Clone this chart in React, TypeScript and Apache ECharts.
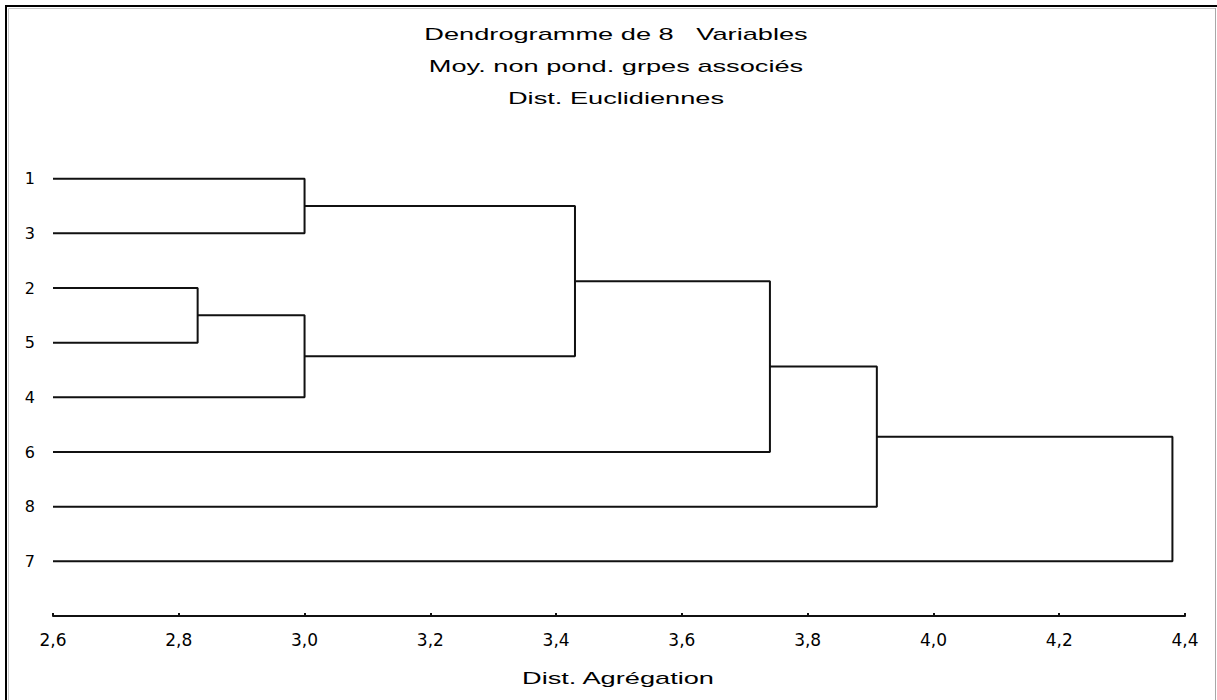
import React, { useEffect, useRef } from "react";
import * as echarts from "echarts";

// ---- data ----
const leafLabels = ["1", "3", "2", "5", "4", "6", "8", "7"];
// merges: indices 0..7 are leaves (in display order), 8+ are clusters created in order
const mergeLeft = [0, 2, 9, 8, 11, 12, 13];
const mergeRight = [1, 3, 4, 10, 5, 6, 7];
const mergeHeight = [3.0, 2.83, 3.0, 3.43, 3.74, 3.91, 4.38];
const xMin = 2.6;
const xMax = 4.4;
const xInterval = 0.2;
const titleLines = [
  "Dendrogramme de 8   Variables",
  "Moy. non pond. grpes associés",
  "Dist. Euclidiennes",
];
const xAxisName = "Dist. Agrégation";

export default function App() {
  const ref = useRef<HTMLDivElement>(null);

  useEffect(() => {
    if (!ref.current) return;
    const chart = echarts.init(ref.current, undefined, { renderer: "svg" });

    const pos: number[] = leafLabels.map((_, i) => i + 1);
    const hgt: number[] = leafLabels.map(() => xMin);
    const segments: number[][][] = [];
    for (let k = 0; k < mergeHeight.length; k++) {
      const a = mergeLeft[k];
      const b = mergeRight[k];
      const h = mergeHeight[k];
      segments.push([
        [hgt[a], pos[a]],
        [h, pos[a]],
        [h, pos[b]],
        [hgt[b], pos[b]],
      ]);
      pos.push((pos[a] + pos[b]) / 2);
      hgt.push(h);
    }

    const textColor = "#000";
    const stretch = 1.6;
    const titleYs = [34, 66, 98];

    const textStyle = (t: string) => ({
      text: t,
      fontSize: 17,
      fontFamily: "Liberation Sans",
      fill: textColor,
      align: "center",
      verticalAlign: "middle",
      textAlign: "center",
      textVerticalAlign: "middle",
    });

    const graphic: any[] = titleLines.map((t, i) => ({
      type: "text",
      x: 616,
      y: titleYs[i],
      scaleX: stretch,
      style: textStyle(t),
    }));
    graphic.push({
      type: "text",
      x: 618,
      y: 678,
      scaleX: stretch,
      style: textStyle(xAxisName),
    });
    // frame
    graphic.push(
      { type: "line", shape: { x1: 5, y1: 6, x2: 1217, y2: 6 }, style: { stroke: "#000", lineWidth: 2 } },
      { type: "line", shape: { x1: 6, y1: 5, x2: 6, y2: 700 }, style: { stroke: "#000", lineWidth: 2 } },
      { type: "line", shape: { x1: 8.5, y1: 8.5, x2: 1215, y2: 8.5 }, style: { stroke: "#c8c8c8", lineWidth: 1 } },
      { type: "line", shape: { x1: 8.5, y1: 8.5, x2: 8.5, y2: 700 }, style: { stroke: "#c8c8c8", lineWidth: 1 } },
      { type: "line", shape: { x1: 1215.5, y1: 8, x2: 1215.5, y2: 700 }, style: { stroke: "#a8a8a8", lineWidth: 1 } }
    );

    chart.setOption({
      animation: false,
      backgroundColor: "#fff",
      grid: { left: 53, right: 32, top: 124, bottom: 84, containLabel: false },
      xAxis: {
        type: "value",
        min: xMin,
        max: xMax,
        interval: xInterval,
        splitLine: { show: false },
        axisLine: { show: true, onZero: false, lineStyle: { color: "#111", width: 2 } },
        axisTick: { show: true, inside: true, length: 3, lineStyle: { color: "#111", width: 2 } },
        axisLabel: {
          margin: 15,
          color: textColor,
          fontSize: 17,
          fontFamily: "DejaVu Sans",
          formatter: (v: number) => v.toFixed(1).replace(".", ","),
        },
      },
      yAxis: {
        type: "value",
        inverse: true,
        min: 0,
        max: leafLabels.length + 1,
        interval: 1,
        splitLine: { show: false },
        axisLine: { show: false },
        axisTick: { show: false },
        axisLabel: {
          margin: 18,
          color: textColor,
          fontSize: 16,
          fontFamily: "DejaVu Sans",
          formatter: (v: number) => leafLabels[Math.round(v) - 1] ?? "",
        },
      },
      graphic,
      series: segments.map((seg) => ({
        type: "line",
        data: seg,
        symbol: "none",
        silent: true,
        lineStyle: { color: "#111", width: 2 },
      })),
    });

    return () => chart.dispose();
  }, []);

  return (
    <div
      ref={ref}
      style={{ position: "absolute", left: 0, top: 0, width: 1217, height: 700 }}
    />
  );
}
